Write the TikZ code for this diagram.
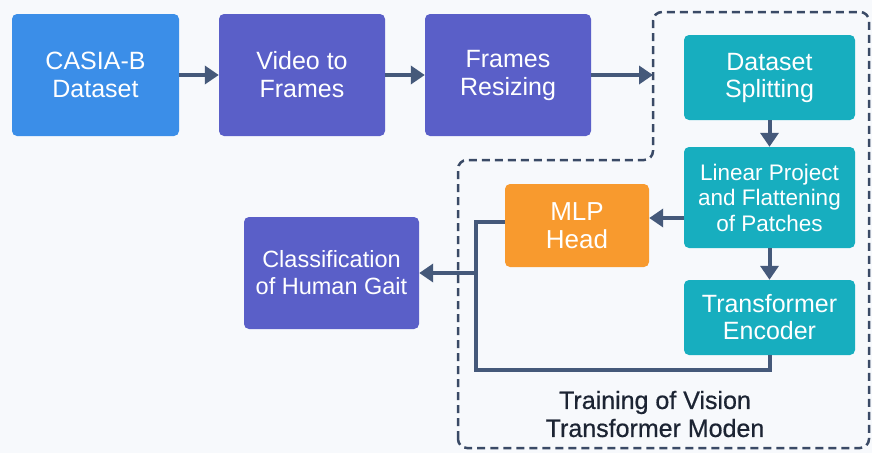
\documentclass[tikz,border=0pt]{standalone}
\usepackage{fontspec}
\setmainfont{Liberation Sans}
\newfontfamily\regionfont{Liberation Sans}[FakeBold=0.6]
\usetikzlibrary{arrows.meta}

\definecolor{pageblue}{HTML}{F7F9FC}
\definecolor{casiablue}{HTML}{3B8EE8}
\definecolor{prepindigo}{HTML}{5A5FC8}
\definecolor{vitteal}{HTML}{17AEBF}
\definecolor{headorange}{HTML}{F89A2E}
\definecolor{flowslate}{HTML}{45597A}
\definecolor{regionslate}{HTML}{3A4A66}
\definecolor{labelink}{HTML}{1C2433}

\begin{document}
\begin{tikzpicture}[x=1pt, y=-1pt,
  box/.style={rounded corners=5pt, inner sep=0pt, align=center, text=white},
  bigbox/.style={box, font=\fontsize{25}{28}\selectfont},
  vitbox/.style={box, fill=vitteal, minimum width=171pt, font=\fontsize{25}{27}\selectfont},
  flow/.style={draw=flowslate, line width=4pt, -{Triangle[width=18pt,length=14pt]}},
  wire/.style={draw=flowslate, line width=4pt}]
\fill[pageblue] (0,0) rectangle (872,453);
\useasboundingbox (0,0) rectangle (872,453);

% dashed region round the ViT stages
\draw[regionslate, line width=2.5pt, dash pattern=on 8pt off 5pt, rounded corners=9pt]
  (458,448) -- (458,160) -- (653,160) -- (653,12) -- (869,12) -- (869,448) -- cycle;
\coordinate (region in) at (653,75);

% preprocessing row
\node[bigbox, fill=casiablue, minimum width=167pt, minimum height=122pt] (casia) at (95.5,75) {CASIA-B\\Dataset};
\node[bigbox, fill=prepindigo, minimum width=166pt, minimum height=122pt] (video) at (302,75) {Video to\\Frames};
\node[bigbox, fill=prepindigo, minimum width=166pt, minimum height=122pt] (resize) at (508,75) {Frames\\Resizing};

% vision transformer stages
\node[vitbox, minimum height=85pt] (split) at (769.5,77.5) {Dataset\\Splitting};
\node[vitbox, minimum height=101pt, font=\fontsize{22.5}{25.5}\selectfont] (linear) at (769.5,197.5) {Linear Project\\and Flattening\\of Patches};
\node[vitbox, minimum height=75pt] (encoder) at (769.5,317.5) {Transformer\\Encoder};
\node[box, fill=headorange, minimum width=144pt, minimum height=83pt, font=\fontsize{26}{28}\selectfont] (mlp) at (577,225.5) {MLP\\Head};

\node[box, fill=prepindigo, minimum width=175pt, minimum height=112pt, font=\fontsize{23.5}{27}\selectfont] (classify) at (331.5,273) {Classification\\of Human Gait};

\node[align=center, text=labelink, font=\regionfont\fontsize{25}{28}\selectfont] (region label) at (655,414) {Training of Vision\\Transformer Moden};

\draw[flow] (casia) -- (video);
\draw[flow] (video) -- (resize);
\draw[flow] (resize) -- (region in);
\draw[flow] (split) -- (linear);
\draw[flow] (linear) -- (encoder);
\draw[flow] (linear.west |- 0,218) -- (mlp.east |- 0,218);

% head and encoder outputs joined, then on to the classifier
\coordinate (join) at (476,273);
\draw[wire, line join=miter] (mlp.west |- 0,222) -| (476,370) -| (encoder.south);
\draw[flow] (join) -- (classify.east);
\end{tikzpicture}
\end{document}
